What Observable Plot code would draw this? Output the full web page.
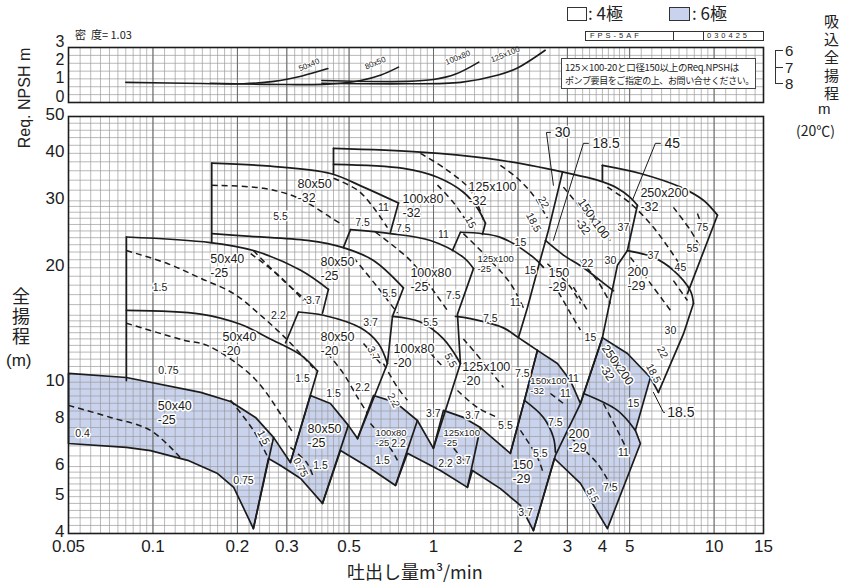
<!DOCTYPE html>
<html><head><meta charset="utf-8">
<script src="https://cdn.jsdelivr.net/npm/d3@7"></script>
<script src="https://cdn.jsdelivr.net/npm/@observablehq/plot@0.6"></script>
<style>
body{margin:0;background:#fff;}
#wrap{position:relative;width:845px;height:583px;overflow:hidden;font-family:"Liberation Sans",Arial,sans-serif;color:#222;background:#fff;}
#wrap svg{position:absolute;left:0;}
.abs{position:absolute;white-space:nowrap;line-height:1;}
.jp{font-family:"Noto Sans CJK JP","Noto Sans",sans-serif;}
.vt{writing-mode:vertical-rl;text-orientation:upright;}
</style></head><body><div id="wrap"></div>
<script>
// ---------- axis ticks ----------
const xTicks = [0.05,0.1,0.2,0.3,0.5,1,2,3,4,5,10,15];
const yTicks = [4,5,6,8,10,20,30,40,50];
const npshTicks = [0,1,2,3];
const xGridSteps = [[0.05,0.1,0.005],[0.1,0.2,0.01],[0.2,0.5,0.02],[0.5,1,0.05],[1,2,0.1],[2,5,0.2],[5,10,0.5],[10,15,1]];
const yGridSteps = [[4,6,0.2],[6,10,0.4],[10,15,0.5],[15,30,1],[30,50,2]];
const xMajor = [0.1,0.2,0.3,0.5,1,2,3,5,10];
const npshGrid = [0.43,0.86,1.29,1.71,2.14,2.57];

// ---------- 4-pole region boundaries (Q m3/min, H m) ----------
const row32Curves = [
  [[0.162,37.7],[0.262,37.0],[0.429,35.4],[0.563,32.6],[0.750,29.6]],
  [[0.440,41.2],[0.898,40.3],[1.556,38.8],[2.214,37.2],[2.904,35.7],[3.838,34.0],[4.523,32.4],[5.032,30.6],[5.329,29.2]],
  [[0.440,37.4],[0.781,36.5],[1.033,34.6],[1.278,31.6],[1.434,28.7],[1.531,26.2]],
  [[2.505,23.6],[2.904,21.6],[3.422,20.0],[4.166,17.9],[4.377,17.4]],
  [[3.999,37.2],[5.462,35.4],[7.586,32.6],[9.162,30.1],[10.28,27.5]]
];
const row32Edges = [
  [[0.162,37.7],[0.162,23.3]],
  [[0.750,29.6],[0.702,24.8]],
  [[0.440,41.2],[0.440,35.4]],
  [[1.531,26.2],[1.494,24.5]],
  [[2.880,35.65],[2.568,25.1],[2.346,19.7],[2.161,15.7],[2.007,13.1]],
  [[3.999,37.2],[3.999,33.8]],
  [[10.28,27.5],[8.035,17.1]]
];
const row25Curves = [
  [[0.0804,24.1],[0.160,23.3],[0.228,22.2],[0.336,19.7],[0.422,17.55]],
  [[0.162,24.6],[0.223,24.2],[0.355,23.6],[0.477,22.6],[0.611,20.9],[0.781,17.7]],
  [[0.506,25.2],[0.702,24.6],[0.975,23.6],[1.278,21.3],[1.388,19.9]],
  [[1.247,24.8],[1.731,24.05],[2.270,21.3],[2.464,20.05]],
  [[4.910,22.2],[6.077,21.3],[7.161,19.7],[8.235,17.4],[8.441,16.1]]
];
const row25Edges = [
  [[0.422,17.55],[0.402,15.2]],
  [[0.506,25.2],[0.477,22.6]],
  [[1.247,24.8],[1.168,22.2]],
  [[8.441,16.1],[7.776,13.4],[6.331,9.40]],
  [[5.329,29.2],[4.910,22.2],[4.523,20.3],[3.999,13.1],[3.339,8.79],[2.719,6.42],[2.270,4.07]]
];
const row20Curves = [
  [[0.0804,15.45],[0.148,15.1],[0.205,14.2],[0.262,13.0],[0.336,11.8],[0.386,10.7]],
  [[0.330,15.3],[0.405,15.0],[0.549,13.9],[0.636,12.65],[0.685,11.2]],
  [[0.714,14.9],[0.898,14.4],[1.085,13.0],[1.247,11.2]],
  [[1.197,14.9],[1.354,14.7],[1.775,13.9],[2.007,13.1],[2.346,12.13]]
];
const row20Edges = [
  [[0.0804,24.1],[0.0804,10.1]],
  [[0.386,10.7],[0.309,6.15]],
  [[0.330,15.3],[0.297,12.7]],
  [[0.781,17.7],[0.714,14.9],[0.685,11.2]],
  [[0.685,11.2],[0.536,7.1]],
  [[1.388,19.9],[1.217,15.1],[1.247,11.2]],
  [[1.247,11.2],[0.999,6.70]],
  [[2.346,12.13],[2.109,8.96],[1.879,6.50]]
];

// ---------- 6-pole (blue) area ----------
const blueOutline = [[0.050,10.55],[0.0804,10.29],[0.148,9.40],[0.189,8.90],[0.232,8.08],[0.269,7.16],[0.309,6.15],
  [0.364,9.23],[0.429,8.79],[0.497,7.70],[0.536,7.11],[0.611,9.23],[0.732,8.85],[0.876,7.93],[0.999,6.70],
  [1.085,8.43],[1.278,8.08],[1.469,7.60],[1.879,6.50],[2.109,8.96],[2.346,12.13],[2.764,11.2],[3.075,10.1],
  [3.339,8.79],[3.999,13.1],[4.910,11.9],[5.929,10.29],[5.242,7.47],[5.462,6.90],[4.166,4.12],[3.339,5.42],
  [2.697,6.30],[2.270,4.07],[2.040,4.74],[1.731,5.25],[1.376,5.86],[1.321,5.29],[1.058,5.86],[0.807,6.50],
  [0.732,5.35],[0.596,5.93],[0.466,6.61],[0.402,4.80],[0.336,5.58],[0.285,6.04],[0.258,6.30],[0.228,4.12],
  [0.194,5.29],[0.170,5.75],[0.133,6.23],[0.098,6.61],[0.0804,6.74],[0.050,6.90]];
const blueEdges = [
  [[0.269,7.16],[0.228,4.12]],
  [[0.497,7.70],[0.402,4.80]],
  [[0.876,7.93],[0.732,5.35]],
  [[1.469,7.60],[1.321,5.29]]
];
const blueCurves = [
  [[2.109,8.96],[2.464,8.08],[2.675,7.16],[2.719,6.54]],
  [[3.422,9.34],[4.523,8.43],[5.242,7.47]],
  [[5.929,10.29],[6.331,9.40]]
];

// ---------- motor kW boundaries (dashed) ----------
const kwBoundaries = [
  [[0.0804,22.2],[0.113,20.5],[0.148,18.76],[0.194,17.1],[0.242,15.0],[0.302,12.9],[0.373,10.9]],
  [[0.228,22.2],[0.292,18.5],[0.364,16.1]],
  [[0.0804,14.3],[0.129,12.9],[0.156,12.5],[0.228,10.3],[0.292,8.03],[0.317,7.33]],
  [[0.189,8.96],[0.228,7.47],[0.258,6.30]],
  [[0.050,8.69],[0.0706,8.08],[0.098,7.47],[0.125,6.34]],
  [[0.162,32.96],[0.248,32.36],[0.330,30.5],[0.429,27.15],[0.477,25.86]],
  [[0.440,34.4],[0.536,32.0],[0.611,28.8],[0.685,25.5]],
  [[0.898,40.0],[1.121,36.1],[1.354,32.0],[1.506,26.7]],
  [[1.731,37.2],[1.991,34.4],[2.270,31.0],[2.546,27.0]],
  [[1.033,33.0],[1.177,29.7],[1.321,26.3]],
  [[0.223,21.8],[0.285,18.9],[0.344,16.4]],
  [[0.518,21.3],[0.631,17.8],[0.744,15.2]],
  [[0.621,24.8],[0.827,20.9],[0.999,17.4],[1.121,15.45]],
  [[1.278,24.6],[1.595,20.9],[1.879,18.2],[2.091,15.7]],
  [[2.904,32.6],[3.339,28.8],[3.838,25.5],[4.270,23.6]],
  [[4.166,32.6],[5.032,29.55],[6.077,25.55],[6.988,22.2],[7.776,19.7]],
  [[7.161,28.84],[8.235,25.09],[8.939,22.6]],
  [[8.722,27.8],[9.162,25.1]],
  [[3.339,20.9],[3.838,18.5],[4.270,16.1]],
  [[3.152,17.8],[3.537,15.45]],
  [[2.546,20.5],[3.075,17.8],[3.339,16.1]],
  [[2.675,18.2],[3.075,15.2],[3.339,13.7]],
  [[5.032,21.3],[5.929,18.2],[6.988,15.45]],
  [[7.161,18.5],[8.035,16.4]],
  [[1.278,13.0],[1.506,11.27],[1.775,9.69]],
  [[1.217,9.51],[1.434,8.58],[1.689,8.08]],
  [[0.663,11.2],[0.744,9.69],[0.807,8.96]],
  [[0.975,11.91],[1.085,10.94]],
  [[0.419,11.91],[0.477,10.55],[0.536,9.12],[0.581,8.28]],
  [[0.563,12.65],[0.647,11.2]],
  [[0.309,6.74],[0.355,6.11],[0.373,5.62]],
  [[0.596,7.79],[0.685,6.90],[0.744,6.23]],
  [[1.121,7.03],[1.278,6.23]],
  [[2.610,9.34],[2.904,8.79]],
  [[2.040,7.47],[2.346,6.34],[2.464,5.75]],
  [[3.075,7.16],[3.838,6.11],[4.377,5.19]],
  [[4.032,8.79],[4.523,7.47],[4.910,6.61]],
  [[4.377,11.62],[4.751,10.74]]
];

// ---------- leaders ----------
const leaderLines = [
  [[2.610,45.4],[2.526,45.4],[2.675,32.96]],
  [[3.565,42.5],[3.422,42.5],[2.675,23.62]],
  [[6.437,42.5],[6.177,42.5],[5.115,30.1]],
  [[6.08,9.40],[6.60,8.33],[6.66,8.33]]
];
const leaderLabels = [["30",2.66,45.4],["18.5",3.625,42.5],["45",6.544,42.5],["18.5",6.70,8.33]];

// ---------- labels ----------
const modelLabels = [
  ["50x40\n-25",0.160,20.29],["50x40\n-20",0.1769,12.65],["80x50\n-32",0.3278,31.97],
  ["80x50\n-25",0.3954,19.93],["80x50\n-20",0.3954,12.65],["100x80\n-32",0.775,29.19],
  ["100x80\n-25",0.827,18.64],["100x80\n-20",0.720,11.76],["125x100\n-32",1.332,31.39],
  ["125x100\n-20",1.267,10.55],["150\n-29",2.568,18.64],["200\n-29",4.91,18.76],
  ["250x200\n-32",5.462,30.28],
  ["50x40\n-25",0.104,8.33],["80x50\n-25",0.3554,7.24],["150\n-29",1.91,5.83],["200\n-29",3.03,7.03]
];
const smallModelLabels = [
  ["125x100\n-25",1.434,20.54],["100x80\n-25",0.621,7.16],["125x100\n-25",1.085,7.16],["150x100\n-32",2.214,9.81]
];
const rotatedModelLabels = [["150x100\n-32",3.565,26.34],["250x200\n-32",4.344,10.87]];
const kwLabels = [
  ["1.5",0.106,17.76],["2.2",0.280,14.99],["3.7",0.373,16.42],["0.75",0.1135,10.74],["1.5",0.341,10.23],
  ["1.5",0.440,9.34],["2.2",0.558,9.69],["5.5",0.285,27.32],["7.5",0.558,26.34],["11",0.663,28.84],
  ["7.5",0.781,25.4],["11",1.085,24.49],["3.7",0.596,14.37],["5.5",0.6965,17.13],["7.5",1.177,16.92],
  ["5.5",0.975,14.37],["7.5",1.595,14.72],["11",1.958,16.22],["15",2.040,23.33],["15",2.214,19.69],
  ["37",4.751,25.55],["37",6.077,21.57],["45",7.586,20.05],["55",8.371,22.5],["75",9.086,25.55],
  ["22",3.537,20.54],["30",4.270,20.92],["30",6.988,13.69],["15",3.625,13.12],["11",3.152,10.23],
  ["15",5.157,8.79],["11",4.751,6.54],["7.5",4.270,5.29],["7.5",2.719,7.84],["5.5",2.404,6.50],
  ["3.7",2.126,4.54],["11",2.951,9.34],["7.5",2.074,10.55],["0.4",0.0561,7.33],
  ["0.75",0.2102,5.51],["1.5",0.3954,6.04],["1.5",0.6575,6.23],["2.2",0.750,6.90],["2.2",1.1026,6.11],
  ["3.7",1.278,6.23],["3.7",0.999,8.28],["3.7",1.376,8.18],["5.5",1.804,7.70]
];
const rotatedKwLabels = [
  ["22",2.464,29.73],["18.5",2.270,26.34],["15",1.354,26.34],["1.5",0.2476,7.16],["0.75",0.3355,5.97],
  ["22",6.545,11.98],["18.5",6.077,10.55],["5.5",3.685,5.04],["3.7",0.611,11.91],["5.5",1.149,11.41],["2.2",0.7198,8.96]
];

// ---------- Req. NPSH curves ----------
const npshCurves = [
  [[0.08,1.1],[0.15,1.04],[0.21,1.02],[0.27,1.15],[0.34,1.45],[0.42,1.85]],
  [[0.16,1.05],[0.3,0.98],[0.42,1.0],[0.55,1.2],[0.65,1.5],[0.75,1.93]],
  [[0.40,1.2],[0.8,1.15],[1.0,1.25],[1.2,1.55],[1.45,2.2]],
  [[0.40,1.05],[0.8,1.02],[1.25,1.1],[1.7,1.5],[2.0,1.9],[2.5,2.85]]
];
const npshLabels = [["50x40",0.36,2.05],["80x50",0.62,2.15],["100x80",1.22,2.45],["125x100",1.8,2.62]];

(function(){
// ---------- helpers ----------
const expand = steps => {
  const out = [];
  for (const [a,b,s] of steps) for (let v=a; v<b-1e-9; v+=s) out.push(Math.round(v*1e6)/1e6);
  out.push(steps[steps.length-1][1]);
  return out;
};
const xGrid = expand(xGridSteps);
const yGrid = expand(yGridSteps);
const flat = lines => lines.flatMap((pts,i) => pts.map(([Q,H]) => ({id:i,Q,H})));
const lab = arr => arr.map(([t,Q,H]) => ({t,Q,H}));

const BLUE = "#c9d3ed", INK = "#1c1c1c", GRID = "#9b9b9b";
const FONT = "Liberation Sans, Arial, sans-serif";
const XDOM = [0.05, 15];

const mainPlot = Plot.plot({
  width:845, height:477, marginLeft:68, marginRight:82, marginTop:10, marginBottom:50,
  style:{fontFamily:FONT, fontSize:"17px", background:"transparent", overflow:"visible", color:INK},
  x:{type:"log", domain:XDOM, axis:null, label:null},
  y:{type:"log", domain:[4,50], axis:null, label:null},
  marks:[
    Plot.line(blueOutline, {x:d=>d[0], y:d=>d[1], fill:BLUE, stroke:"none"}),
    Plot.ruleX(xGrid, {stroke:GRID, strokeWidth:0.7}),
    Plot.ruleY(yGrid, {stroke:GRID, strokeWidth:0.7}),
    Plot.ruleX(xMajor, {stroke:"#6a6a6a", strokeWidth:1}),
    Plot.line(blueOutline.concat([blueOutline[0]]), {x:d=>d[0], y:d=>d[1], stroke:INK, strokeWidth:1.7}),
    Plot.line(flat(blueEdges), {x:"Q", y:"H", z:"id", stroke:INK, strokeWidth:1.7}),
    Plot.line(flat(blueCurves), {x:"Q", y:"H", z:"id", curve:"catmull-rom", stroke:INK, strokeWidth:1.7}),
    Plot.line(flat(kwBoundaries), {x:"Q", y:"H", z:"id", curve:"catmull-rom", stroke:INK, strokeWidth:1.5, strokeDasharray:"6,4", strokeLinecap:"butt"}),
    Plot.line(flat([...row32Curves, ...row25Curves, ...row20Curves]), {x:"Q", y:"H", z:"id", curve:"catmull-rom", stroke:INK, strokeWidth:1.7}),
    Plot.line(flat([...row32Edges, ...row25Edges, ...row20Edges]), {x:"Q", y:"H", z:"id", stroke:INK, strokeWidth:1.7}),
    Plot.line(flat(leaderLines), {x:"Q", y:"H", z:"id", stroke:INK, strokeWidth:1}),
    Plot.text(lab(kwLabels), {x:"Q", y:"H", text:"t", fontSize:10.5, fill:INK, stroke:"white", strokeWidth:3}),
    Plot.text(lab(rotatedKwLabels), {x:"Q", y:"H", text:"t", fontSize:10.5, rotate:62, fill:INK, stroke:"white", strokeWidth:3}),
    Plot.text(lab(modelLabels), {x:"Q", y:"H", text:"t", fontSize:12.5, lineHeight:1.1, textAnchor:"start", fill:INK, stroke:"white", strokeWidth:3}),
    Plot.text(lab(smallModelLabels), {x:"Q", y:"H", text:"t", fontSize:9.5, lineHeight:1.1, textAnchor:"start", fill:INK, stroke:"white", strokeWidth:2.5}),
    Plot.text(lab(rotatedModelLabels), {x:"Q", y:"H", text:"t", fontSize:12, lineHeight:1.1, rotate:55, fill:INK, stroke:"white", strokeWidth:3}),
    Plot.text(lab(leaderLabels), {x:"Q", y:"H", text:"t", fontSize:14, textAnchor:"start", dx:2, fill:INK, stroke:"white", strokeWidth:3}),
    Plot.frame({stroke:INK, strokeWidth:1.6}),
    // tick labels through the scales
    Plot.text(xTicks, {x:d=>d, frameAnchor:"bottom", dy:18, text:d=>String(d), fontSize:17, fill:INK}),
    Plot.text(yTicks, {y:d=>d, frameAnchor:"left", dx:-4, dy:-2, textAnchor:"end", text:d=>String(d), fontSize:17, fill:INK})
  ]
});
mainPlot.style.top = "106px";

const npshPlot = Plot.plot({
  width:845, height:106, marginLeft:68, marginRight:82, marginTop:47, marginBottom:4,
  style:{fontFamily:FONT, fontSize:"17px", background:"transparent", overflow:"visible", color:INK},
  x:{type:"log", domain:XDOM, axis:null, label:null},
  y:{domain:[0,3], axis:null, label:null},
  marks:[
    Plot.ruleX(xGrid, {stroke:GRID, strokeWidth:0.7}),
    Plot.ruleY(npshGrid, {stroke:GRID, strokeWidth:0.7}),
    Plot.ruleX(xMajor, {stroke:"#6a6a6a", strokeWidth:1}),
    Plot.line(flat(npshCurves), {x:"Q", y:"H", z:"id", curve:"catmull-rom", stroke:INK, strokeWidth:1.6}),
    Plot.text(lab(npshLabels), {x:"Q", y:"H", text:"t", fontSize:8, rotate:-22, fill:INK, stroke:"white", strokeWidth:2}),
    Plot.frame({stroke:INK, strokeWidth:1.6}),
    Plot.text(npshTicks, {y:d=>d, frameAnchor:"left", dx:-4, dy:-6, textAnchor:"end", text:d=>String(d), fontSize:16, fill:INK})
  ]
});
npshPlot.style.top = "0px";

const wrap = document.getElementById("wrap");
wrap.appendChild(npshPlot);
wrap.appendChild(mainPlot);

const html = `
<div class="abs jp" style="left:75px;top:29px;font-size:11px;">密&nbsp;&nbsp;度= 1.03</div>
<div class="abs" style="left:567px;top:7px;width:18px;height:12px;border:1.3px solid #333;background:#fff;"></div>
<div class="abs jp" style="left:588px;top:4px;font-size:17px;">: 4極</div>
<div class="abs" style="left:669px;top:7px;width:19px;height:12px;border:1.3px solid #333;background:${BLUE};"></div>
<div class="abs jp" style="left:692px;top:4px;font-size:17px;">: 6極</div>
<div class="abs" style="left:585px;top:31px;width:177px;height:8px;border:1px solid #333;background:#fff;"></div>
<div class="abs" style="left:673px;top:31px;width:1px;height:9px;background:#333;"></div>
<div class="abs" style="left:703px;top:31px;width:1px;height:9px;background:#333;"></div>
<div class="abs" style="left:590px;top:32px;font-size:7.5px;letter-spacing:3px;">FPS-5AF</div>
<div class="abs" style="left:707px;top:32px;font-size:7.5px;letter-spacing:3px;">030425</div>
<div class="abs" style="left:561px;top:58px;width:193px;height:29px;border:1px solid #444;background:#fff;"></div>
<div class="abs jp" style="left:565px;top:63px;font-size:9.5px;letter-spacing:-0.3px;">125×100-20と口径150以上のReq.NPSHは</div>
<div class="abs jp" style="left:565px;top:76px;font-size:9px;letter-spacing:-0.4px;">ポンプ要目をご指定の上、お問い合せください。</div>
<div class="abs" style="left:775px;top:50px;width:1px;height:33px;background:#333;"></div>
<div class="abs" style="left:775px;top:50px;width:8px;height:1px;background:#333;"></div>
<div class="abs" style="left:775px;top:67px;width:8px;height:1px;background:#333;"></div>
<div class="abs" style="left:775px;top:83px;width:8px;height:1px;background:#333;"></div>
<div class="abs" style="left:785px;top:43px;font-size:15px;">6</div>
<div class="abs" style="left:785px;top:60px;font-size:15px;">7</div>
<div class="abs" style="left:785px;top:76px;font-size:15px;">8</div>
<div class="abs jp vt" style="left:824px;top:14px;font-size:15px;letter-spacing:3px;">吸込全揚程</div>
<div class="abs" style="left:818px;top:101px;font-size:15px;">m</div>
<div class="abs jp" style="left:796px;top:123px;font-size:14px;">(20℃)</div>
<div class="abs" style="left:25px;top:98px;font-size:16px;transform:translate(-50%,-50%) rotate(-90deg);">Req. NPSH m</div>
<div class="abs jp vt" style="left:12px;top:287px;font-size:18px;letter-spacing:2px;">全揚程</div>
<div class="abs" style="left:6px;top:352px;font-size:17px;">(m)</div>
<div class="abs jp" style="left:347px;top:562px;font-size:18px;">吐出し量m³/min</div>
`;
wrap.insertAdjacentHTML("beforeend", html);
})();
</script></body></html>
